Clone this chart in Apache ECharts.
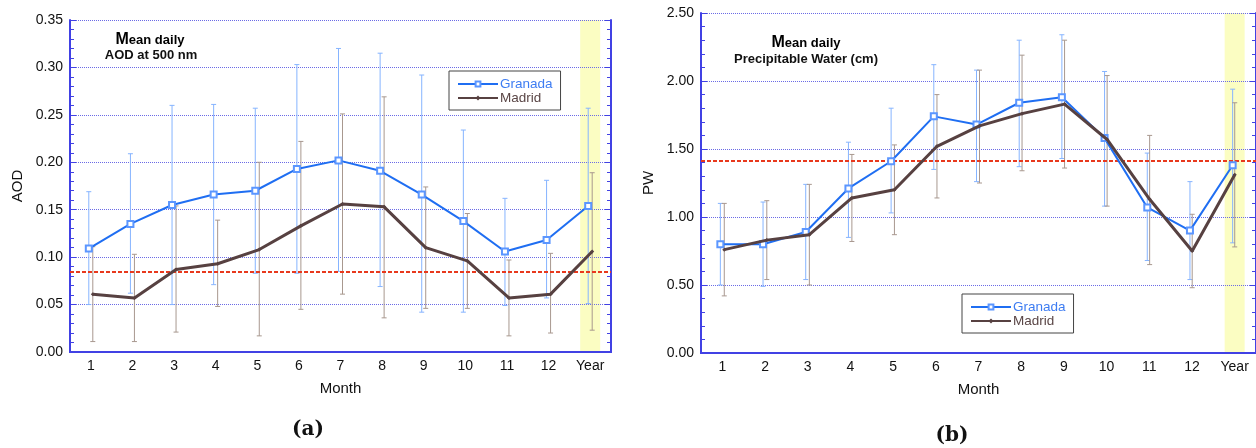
<!DOCTYPE html>
<html>
<head>
<meta charset="utf-8">
<script src="https://cdn.jsdelivr.net/npm/echarts@6/dist/echarts.min.js"></script>
<style>
  html, body { margin: 0; padding: 0; background: #fff; }
  #chart { width: 1256px; height: 448px; }
</style>
</head>
<body>
<div id="chart"></div>
<script>
// Month categories shared by both panels
const months = ['1', '2', '3', '4', '5', '6', '7', '8', '9', '10', '11', '12', 'Year'];

// Panel (a): mean daily AOD at 500 nm
const aodGranada     = [0.109, 0.135, 0.155, 0.166, 0.170, 0.193, 0.202, 0.191, 0.166, 0.138, 0.106, 0.118, 0.154];
const aodGranadaLow  = [0.050, 0.062, 0.050, 0.071, 0.083, 0.083, 0.085, 0.069, 0.042, 0.042, 0.049, 0.057, 0.051];
const aodGranadaHigh = [0.169, 0.209, 0.260, 0.261, 0.257, 0.303, 0.320, 0.315, 0.292, 0.234, 0.162, 0.181, 0.257];
const aodMadrid      = [0.061, 0.057, 0.087, 0.093, 0.108, 0.133, 0.156, 0.153, 0.110, 0.096, 0.057, 0.061, 0.106];
const aodMadridLow   = [0.011, 0.011, 0.021, 0.048, 0.017, 0.045, 0.061, 0.036, 0.046, 0.046, 0.017, 0.020, 0.023];
const aodMadridHigh  = [0.111, 0.103, 0.154, 0.139, 0.200, 0.222, 0.251, 0.269, 0.174, 0.146, 0.097, 0.104, 0.189];
const aodReference   = 0.085;
const aodTicks       = { min: 0, max: 0.35, interval: 0.05 };

// Panel (b): mean daily precipitable water (cm)
const pwGranada     = [0.80, 0.80, 0.89, 1.21, 1.41, 1.74, 1.68, 1.84, 1.88, 1.58, 1.07, 0.90, 1.38];
const pwGranadaLow  = [0.50, 0.49, 0.54, 0.85, 1.03, 1.35, 1.26, 1.37, 1.43, 1.08, 0.68, 0.54, 0.81];
const pwGranadaHigh = [1.10, 1.11, 1.24, 1.55, 1.80, 2.12, 2.08, 2.30, 2.34, 2.07, 1.47, 1.26, 1.94];
const pwMadrid      = [0.76, 0.83, 0.87, 1.14, 1.20, 1.52, 1.67, 1.76, 1.83, 1.57, 1.13, 0.75, 1.31];
const pwMadridLow   = [0.42, 0.54, 0.50, 0.82, 0.87, 1.14, 1.25, 1.34, 1.36, 1.08, 0.65, 0.48, 0.78];
const pwMadridHigh  = [1.10, 1.12, 1.24, 1.46, 1.53, 1.90, 2.08, 2.19, 2.30, 2.04, 1.60, 1.02, 1.84];
const pwReference   = 1.416;
const pwTicks       = { min: 0, max: 2.5, interval: 0.5 };

const BLUE = '#1f6ef2';
const BLUE_MARK = '#5b96ff';
const BLUE_ERR = '#86b4ff';
const BROWN = '#574141';
const BROWN_ERR = '#a8988f';
const AXIS = '#4141e4';
const GRID_DOT = '#6b6be6';
const YELLOW = '#fbfdc2';
const RED = '#e8391d';
const FONT = 'Liberation Sans';

const chart = echarts.init(document.getElementById('chart'), null, { renderer: 'canvas' });

const grids = [], xAxes = [], yAxes = [], series = [], legends = [];

function errorRender(color) {
  return function (params, api) {
    const i = api.value(0);
    const lo = api.coord([i, api.value(1)]);
    const hi = api.coord([i, api.value(2)]);
    const w = 2.5;
    const st = { stroke: color, lineWidth: 1 };
    return {
      type: 'group',
      children: [
        { type: 'line', shape: { x1: lo[0], y1: lo[1], x2: hi[0], y2: hi[1] }, style: st },
        { type: 'line', shape: { x1: lo[0] - w, y1: lo[1], x2: lo[0] + w, y2: lo[1] }, style: st },
        { type: 'line', shape: { x1: hi[0] - w, y1: hi[1], x2: hi[0] + w, y2: hi[1] }, style: st }
      ]
    };
  };
}

function addPanel(p) {
  const g0 = grids.length;
  // main frame grid, plus two slightly shifted grids so the stations sit side by side
  grids.push({ left: p.left, top: p.top, width: p.width, height: p.height, containLabel: false });
  grids.push({ left: p.left - 2, top: p.top, width: p.width, height: p.height });
  grids.push({ left: p.left + 2, top: p.top, width: p.width, height: p.height });

  const x0 = xAxes.length;
  xAxes.push({
    type: 'category', data: months, gridIndex: g0, position: 'bottom',
    name: 'Month', nameLocation: 'middle', nameGap: 29,
    nameTextStyle: { fontFamily: FONT, fontSize: 15, color: '#111' },
    axisLine: { lineStyle: { color: AXIS, width: 2 } },
    axisTick: { inside: true, alignWithLabel: true, length: 7, lineStyle: { color: AXIS, width: 1 } },
    axisLabel: { fontFamily: FONT, fontSize: 14, color: '#111', margin: 7 },
    splitLine: { show: false }
  });
  xAxes.push({
    type: 'category', data: months, gridIndex: g0, position: 'top',
    axisLine: { lineStyle: { color: AXIS, width: 2 } },
    axisTick: { inside: true, alignWithLabel: true, length: 6, lineStyle: { color: AXIS, width: 1 } },
    axisLabel: { show: false }, splitLine: { show: false }
  });
  xAxes.push({ type: 'category', data: months, gridIndex: g0 + 1, show: false });
  xAxes.push({ type: 'category', data: months, gridIndex: g0 + 2, show: false });

  const y0 = yAxes.length;
  const tk = p.ticks;
  yAxes.push({
    type: 'value', gridIndex: g0, position: 'left', min: tk.min, max: tk.max, interval: tk.interval,
    name: p.yName, nameLocation: 'middle', nameGap: 45, nameRotate: 90,
    nameTextStyle: { fontFamily: FONT, fontSize: 15, color: '#111' },
    axisLine: { show: true, lineStyle: { color: AXIS, width: 2 } },
    axisTick: { show: true, inside: true, length: 6, lineStyle: { color: AXIS } },
    minorTick: { show: true, splitNumber: 5, length: 4, lineStyle: { color: AXIS } },
    axisLabel: { fontFamily: FONT, fontSize: 14, color: '#111', margin: 7,
      formatter: v => v.toFixed(2) },
    splitLine: { show: true, lineStyle: { color: GRID_DOT, type: [1, 1], width: 1 } }
  });
  yAxes.push({
    type: 'value', gridIndex: g0, position: 'right', min: tk.min, max: tk.max, interval: tk.interval,
    axisLine: { show: true, lineStyle: { color: AXIS, width: 2 } },
    axisTick: { show: true, inside: true, length: 6, lineStyle: { color: AXIS } },
    minorTick: { show: true, splitNumber: 5, length: 4, lineStyle: { color: AXIS } },
    axisLabel: { show: false }, splitLine: { show: false }
  });
  yAxes.push({ type: 'value', gridIndex: g0 + 1, min: tk.min, max: tk.max, interval: tk.interval, show: false, splitLine: { show: false } });
  yAxes.push({ type: 'value', gridIndex: g0 + 2, min: tk.min, max: tk.max, interval: tk.interval, show: false, splitLine: { show: false } });

  // highlighted annual column and the dashed reference level
  series.push({
    type: 'bar', xAxisIndex: x0, yAxisIndex: y0, silent: true, z: -1,
    barWidth: 20, itemStyle: { color: YELLOW },
    data: months.map(m => (m === 'Year' ? tk.max : null)),
    markLine: {
      silent: true, symbol: 'none', precision: 4, label: { show: false },
      lineStyle: { color: RED, type: [4, 2], width: 2 },
      data: [{ yAxis: p.ref }]
    }
  });

  series.push({
    name: 'Granada err', type: 'custom', xAxisIndex: x0 + 2, yAxisIndex: y0 + 2, silent: true, z: 3,
    renderItem: errorRender(BLUE_ERR),
    data: p.g.map((v, i) => [i, p.gLow[i], p.gHigh[i]])
  });
  series.push({
    name: 'Madrid err', type: 'custom', xAxisIndex: x0 + 3, yAxisIndex: y0 + 3, silent: true, z: 3,
    renderItem: errorRender(BROWN_ERR),
    data: p.m.map((v, i) => [i, p.mLow[i], p.mHigh[i]])
  });
  series.push({
    name: 'Granada', type: 'line', xAxisIndex: x0 + 2, yAxisIndex: y0 + 2, z: 5,
    data: p.g, symbol: 'emptyRect', symbolSize: 6, showAllSymbol: true,
    lineStyle: { color: BLUE, width: 2 },
    itemStyle: { color: BLUE_MARK, borderWidth: 1 }
  });
  series.push({
    name: 'Madrid', type: 'line', xAxisIndex: x0 + 3, yAxisIndex: y0 + 3, z: 6,
    data: p.m, symbol: 'diamond', symbolSize: 4, showAllSymbol: true,
    lineStyle: { color: BROWN, width: 3 },
    itemStyle: { color: BROWN }
  });

  legends.push({
    left: p.legend[0], top: p.legend[1], orient: 'vertical',
    borderColor: '#444', borderWidth: 1, padding: [6, 8, 5, 8], itemGap: 0,
    itemWidth: 40, itemHeight: 6, selectedMode: false, backgroundColor: '#fff',
    textStyle: { fontFamily: FONT, fontSize: 13.5, padding: [0, 0, 0, -3] },
    data: [
      { name: 'Granada', textStyle: { color: '#3d7cf2' } },
      { name: 'Madrid', textStyle: { color: '#5a4646' } }
    ]
  });
}

addPanel({
  left: 70, top: 20, width: 541, height: 332, ticks: aodTicks, yName: 'AOD', ref: aodReference,
  g: aodGranada, gLow: aodGranadaLow, gHigh: aodGranadaHigh,
  m: aodMadrid, mLow: aodMadridLow, mHigh: aodMadridHigh,
  legend: [449, 71]
});
addPanel({
  left: 701, top: 13, width: 555, height: 340, ticks: pwTicks, yName: 'PW', ref: pwReference,
  g: pwGranada, gLow: pwGranadaLow, gHigh: pwGranadaHigh,
  m: pwMadrid, mLow: pwMadridLow, mHigh: pwMadridHigh,
  legend: [962, 294]
});

const titleRich = {
  big: { fontFamily: FONT, fontWeight: 'bold', fontSize: 16, color: '#111' },
  n: { fontFamily: FONT, fontWeight: 'bold', fontSize: 13, color: '#111' }
};

chart.setOption({
  animation: false,
  backgroundColor: '#fff',
  grid: grids,
  xAxis: xAxes,
  yAxis: yAxes,
  legend: legends,
  series: series,
  graphic: [
    { type: 'text', x: 150, y: 40, style: { text: '{big|M}{n|ean daily}', rich: titleRich, align: 'center', verticalAlign: 'middle' } },
    { type: 'text', x: 151, y: 55, style: { text: 'AOD at 500 nm', fontFamily: FONT, fontWeight: 'bold', fontSize: 13, fill: '#111', align: 'center', verticalAlign: 'middle' } },
    { type: 'text', x: 806, y: 43, style: { text: '{big|M}{n|ean daily}', rich: titleRich, align: 'center', verticalAlign: 'middle' } },
    { type: 'text', x: 806, y: 59, style: { text: 'Precipitable Water (cm)', fontFamily: FONT, fontWeight: 'bold', fontSize: 13, fill: '#111', align: 'center', verticalAlign: 'middle' } },
    { type: 'text', x: 308, y: 430, style: { text: '(a)', fontFamily: 'DejaVu Serif', fontWeight: 'bold', fontSize: 20, fill: '#111', align: 'center', verticalAlign: 'middle' } },
    { type: 'text', x: 952, y: 436, style: { text: '(b)', fontFamily: 'DejaVu Serif', fontWeight: 'bold', fontSize: 20, fill: '#111', align: 'center', verticalAlign: 'middle' } }
  ]
});
</script>
</body>
</html>
